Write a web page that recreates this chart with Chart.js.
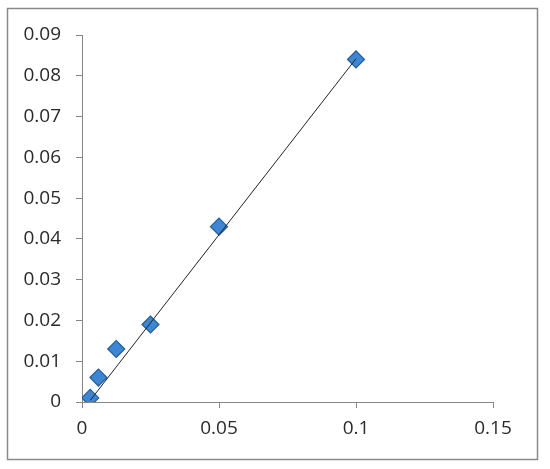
<!DOCTYPE html>
<html>
<head>
<meta charset="utf-8">
<script src="https://cdn.jsdelivr.net/npm/chart.js@4/dist/chart.umd.min.js"></script>
<style>
html,body{margin:0;padding:0;background:#fff;}
#wrap{width:550px;height:469px;position:relative;}
</style>
</head>
<body>
<div id="wrap"><canvas id="c" width="550" height="469"></canvas></div>
<script>
// data
const xValues = [0.003, 0.006, 0.0125, 0.025, 0.05, 0.1];
const yValues = [0.001, 0.006, 0.013, 0.019, 0.043, 0.084];
// linear trendline endpoints
const trendX = [0.003, 0.1];
const trendY = [0.0004, 0.0842];
const xTicks = [0, 0.05, 0.1, 0.15];
const yTicks = [0, 0.01, 0.02, 0.03, 0.04, 0.05, 0.06, 0.07, 0.08, 0.09];

const points = xValues.map((x, i) => ({x: x, y: yValues[i]}));
const trend = trendX.map((x, i) => ({x: x, y: trendY[i]}));

const borderPlugin = {
  id: 'outerBorder',
  beforeDraw(chart) {
    const ctx = chart.ctx;
    ctx.save();
    ctx.fillStyle = '#fff';
    ctx.fillRect(0, 0, chart.width, chart.height);
    ctx.strokeStyle = '#8a8a8a';
    ctx.lineWidth = 1.5;
    ctx.strokeRect(7.5, 8.5, 530, 451);
    ctx.restore();
  }
};

const fontSpec = {family: '"Open Sans", sans-serif', size: 19};

new Chart(document.getElementById('c'), {
  type: 'scatter',
  data: {
    datasets: [
      {
        type: 'line',
        data: trend,
        borderColor: '#222',
        borderWidth: 1,
        pointRadius: 0,
        fill: false,
        order: 0
      },
      {
        data: points,
        pointStyle: 'rectRot',
        pointRadius: 8.5,
        backgroundColor: '#3d86d3',
        borderColor: '#235d9e',
        borderWidth: 1.2,
        order: 1
      }
    ]
  },
  options: {
    responsive: false,
    animation: false,
    events: [],
    layout: {padding: {left: 0, right: 57, top: 35, bottom: 0}},
    plugins: {legend: {display: false}, tooltip: {enabled: false}},
    scales: {
      x: {
        type: 'linear',
        min: 0, max: 0.15,
        afterBuildTicks(s) { s.ticks = xTicks.map(v => ({value: v})); },
        afterFit(s) { s.height = 67; },
        grid: {drawOnChartArea: false, drawTicks: true, tickLength: 6, color: '#868686'},
        border: {display: true, color: '#868686', width: 1},
        ticks: {
          color: '#2a2a2a', font: fontSpec, padding: 9, maxRotation: 0,
          callback: v => String(Number(v.toFixed(2)))
        }
      },
      y: {
        type: 'linear',
        min: 0, max: 0.09,
        afterBuildTicks(s) { s.ticks = yTicks.map(v => ({value: v})); },
        afterFit(s) { s.width = 82; },
        grid: {drawOnChartArea: false, drawTicks: true, tickLength: 6, color: '#868686'},
        border: {display: true, color: '#868686', width: 1},
        ticks: {
          color: '#2a2a2a', font: fontSpec, padding: 15,
          callback: v => String(Number(v.toFixed(2)))
        }
      }
    }
  },
  plugins: [borderPlugin]
});
</script>
</body>
</html>
